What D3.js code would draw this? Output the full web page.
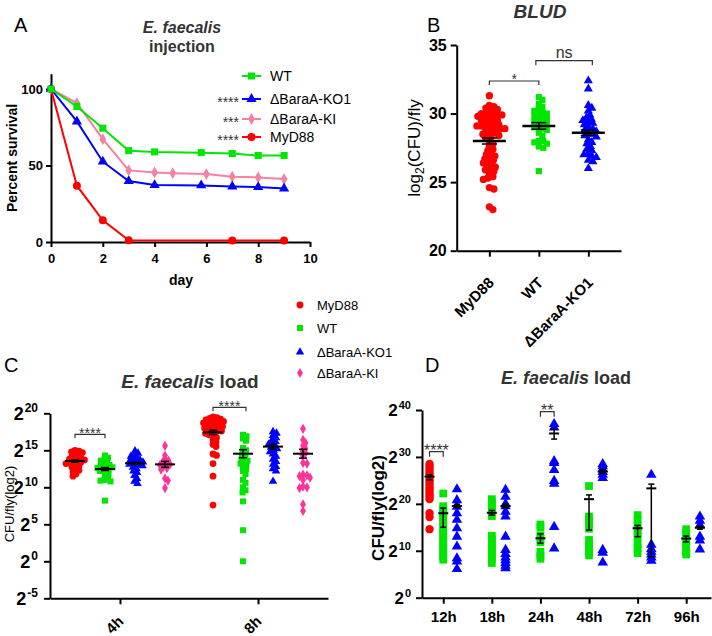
<!DOCTYPE html>
<html>
<head>
<meta charset="utf-8">
<script src="https://cdn.jsdelivr.net/npm/d3@7"></script>
<style>
  body { margin: 0; background: #fff; }
  svg { font-family: 'Liberation Sans', Arial, sans-serif; }
</style>
</head>
<body>
<div id="fig"></div>
<script>
// ---------- data ----------
// A: survival after E. faecalis injection
const wtDays = [0, 1, 2, 3, 4, 5.8, 7, 8, 9];
const wtSurv = [100, 88.6, 74.4, 59.7, 58.9, 58.4, 57.8, 56.5, 56.5];
const ko1Days = [0, 1, 2, 3, 4, 5.8, 7, 8, 9];
const ko1Surv = [100, 78.8, 52.5, 39.8, 37.2, 37, 36.3, 35.9, 35];
const kiDays = [0, 1, 2, 3, 4, 4.7, 6, 7, 8, 9];
const kiSurv = [100, 90.8, 67.2, 46.8, 45.5, 45, 44.4, 42.7, 42.2, 41.1];
const mydDays = [0, 1, 2, 3, 7, 9];
const mydSurv = [100, 36.8, 14.2, 1.1, 1, 1];
const survNames = ['WT', 'ΔBaraA-KO1', 'ΔBaraA-KI', 'MyD88'];
const survStars = ['', '****', '***', '****'];
const dayTicks = [0, 2, 4, 6, 8, 10];
const survTicks = [0, 50, 100];

// B: BLUD, log2(CFU)/fly
const bludGroups = ['MyD88', 'WT', 'ΔBaraA-KO1'];
const bludMyd = [31.3, 30.6, 30.5, 30.4, 30.3, 30.2, 30.1, 30.0, 30.0, 29.9, 29.9, 29.8, 29.8, 29.7, 29.6,
  29.5, 29.5, 29.4, 29.3, 29.2, 29.2, 29.1, 29.1, 29.0, 29.0, 28.9, 28.9, 28.8, 28.7, 28.6, 28.5, 28.5,
  28.4, 28.3, 28.2, 28.0, 27.8, 27.6, 27.4, 27.3, 27.1, 27.0, 26.9, 26.8, 26.7, 26.6, 26.5, 26.4, 26.3,
  26.2, 26.1, 26.0, 25.9, 25.8, 25.6, 25.4, 25.3, 25.2, 24.6, 24.5, 23.2, 23.0];
const bludWT = [31.2, 31.0, 30.7, 30.5, 30.3, 30.2, 30.1, 30.0, 29.9, 29.8, 29.7, 29.6, 29.5, 29.4, 29.3,
  29.2, 29.1, 29.0, 28.9, 28.8, 28.6, 28.4, 28.0, 28.0, 27.9, 27.8, 27.6, 27.5, 25.8];
const bludKO = [32.4, 31.8, 30.6, 30.4, 30.2, 29.9, 29.7, 29.6, 29.5, 29.4, 29.3, 29.2, 29.0, 28.9, 28.8,
  28.7, 28.6, 28.5, 28.4, 28.3, 28.1, 27.9, 27.8, 27.6, 27.4, 27.3, 27.1, 27.0, 26.9, 26.8, 26.6, 26.5, 26.0];
const bludMean = [28.0, 29.1, 28.6];
const bludSem = [0.22, 0.24, 0.2];
const bludTicks = [20, 25, 30, 35];

// C: E. faecalis load at 4h / 8h (log2 CFU per fly)
const cTimes = ['4h', '8h'];
const cGroups = ['MyD88', 'WT', 'ΔBaraA-KO1', 'ΔBaraA-KI'];
const cMyd = [
  [15.0, 14.9, 14.8, 14.7, 14.5, 14.3, 14.2, 14.0, 13.9, 13.8, 13.7, 13.6, 13.5, 13.4, 13.3, 13.2, 13.0,
    12.9, 12.7, 12.5, 12.3, 12.1, 11.8, 11.5],
  [19.5, 19.4, 19.3, 19.2, 19.1, 19.0, 18.9, 18.9, 18.8, 18.7, 18.6, 18.5, 18.4, 18.3, 18.2, 18.1, 18.0,
    17.9, 17.8, 17.7, 17.6, 17.5, 17.4, 17.3, 17.1, 16.9, 16.7, 16.4, 16.1, 15.8, 15.5, 14.5, 14.3, 13.2, 11.5, 7.6]
];
const cWT = [
  [14.3, 14.0, 13.8, 13.6, 13.4, 13.2, 13.0, 12.9, 12.8, 12.7, 12.6, 12.5, 12.4, 12.2, 12.0, 11.8, 11.5,
    11.2, 11.0, 10.9, 10.8, 8.2],
  [17.1, 16.9, 16.6, 16.3, 15.3, 15.0, 14.8, 14.5, 14.3, 14.0, 13.8, 13.6, 13.4, 13.2, 13.0, 12.8, 12.5,
    12.2, 11.8, 11.0, 10.6, 10.0, 9.6, 9.3, 8.1, 4.2, 0]
];
const cKO = [
  [14.9, 14.6, 14.4, 14.2, 14.0, 13.8, 13.7, 13.6, 13.5, 13.4, 13.3, 13.2, 13.1, 13.0, 12.9, 12.7, 12.5,
    12.2, 12.0, 11.6, 11.2, 10.8, 10.5],
  [17.5, 17.3, 17.0, 16.7, 16.5, 16.2, 16.0, 15.8, 15.6, 15.4, 15.2, 15.0, 14.8, 14.5, 14.2, 13.8, 13.5,
    13.1, 12.8, 12.5, 12.2, 10.8]
];
const cKI = [
  [15.6, 14.3, 13.8, 13.6, 13.4, 13.2, 13.1, 13.0, 12.8, 12.6, 12.4, 11.2, 10.9, 9.9],
  [17.9, 16.4, 16.0, 15.6, 15.2, 14.9, 14.6, 14.3, 13.3, 13.2, 11.7, 11.6, 11.5, 11.3, 11.0, 10.1, 10.0,
    9.9, 7.7, 6.8]
];
const cMean = [[13.55, 17.43], [12.47, 14.54], [13.24, 15.5], [13.1, 14.54]];
const cSem = [[0.15, 0.3], [0.2, 0.55], [0.15, 0.35], [0.4, 0.6]];
const cTicks = [-5, 0, 5, 10, 15, 20];

// D: E. faecalis load 12h..96h
const dTimes = ['12h', '18h', '24h', '48h', '72h', '96h'];
const dMyd12 = [28.5, 28.0, 27.5, 27.0, 26.5, 26.0, 25.5, 25.0, 24.5, 24.0, 23.5, 23.0, 22.5, 22.0, 21.5,
  21.0, 18.0, 17.2, 14.6];
const dMydMean = 25.8;
const dMydErr = [25.1, 26.2];
const dWT = [
  [22.2, 19.5, 19.0, 18.4, 17.8, 17.2, 16.5, 15.8, 15.0, 14.3, 13.6, 12.9, 12.2, 11.5, 10.8, 10.1, 9.4, 8.7, 8.1],
  [21.0, 20.3, 19.6, 18.9, 18.2, 17.4, 13.2, 12.5, 11.8, 11.1, 10.4, 9.7, 9.0, 8.3, 7.4],
  [15.6, 15.0, 13.3, 12.6, 11.8, 9.8, 9.0, 8.3],
  [23.8, 17.3, 16.5, 15.6, 14.7, 12.3, 11.4, 10.5, 9.7, 9.0],
  [17.6, 16.6, 15.3, 14.5, 13.7, 12.9, 11.4, 10.6, 9.5],
  [14.6, 13.8, 13.0, 12.2, 11.4, 10.6, 9.8, 9.2]
];
const dKO = [
  [23.1, 20.8, 19.4, 18.0, 16.6, 14.8, 13.0, 10.9, 8.4, 7.7, 6.1],
  [23.0, 21.5, 20.0, 19.5, 18.3, 17.3, 13.0, 10.2, 9.3, 8.6, 8.0, 7.4, 6.8, 6.3],
  [37.0, 36.3, 29.1, 28.7, 27.2, 24.9, 24.3, 15.1, 10.5],
  [28.5, 28.0, 27.4, 26.8, 26.2, 25.5, 10.2, 9.6, 7.5],
  [26.2, 11.3, 10.4, 9.8, 9.2, 8.6, 7.9],
  [17.3, 16.4, 15.5, 13.0, 12.2, 10.3]
];
const dWTMean = [18.0, 18.1, 12.66, 21.0, 14.8, 12.6];
const dWTLo = [15.0, 17.6, 11.6, 14.4, 13.0, 11.9];
const dWTHi = [19.1, 18.6, 13.6, 21.9, 15.4, 13.15];
const dKOMean = [19.55, 19.55, 35.0, 26.9, 23.3, 14.9];
const dKOLo = [19.2, 19.2, 33.8, 26.5, 8.7, 14.6];
const dKOHi = [19.9, 19.9, 35.9, 27.3, 24.2, 15.2];
const dTicks = [0, 10, 20, 30, 40];

// ---------- setup ----------
const red = '#ff0000', green = '#00e600', blue = '#0000ff', pink = '#ff3399', pinkA = '#f5829f';
const font = "'Liberation Sans', Arial, sans-serif";

const svg = d3.select('#fig').append('svg')
  .attr('width', 712).attr('height', 636)
  .style('background', '#fff');

function styleAxis(g, size) {
  g.attr('font-family', font).attr('font-size', size).attr('font-weight', 'bold');
  g.select('.domain').attr('stroke-width', 2);
  g.selectAll('.tick line').attr('stroke-width', 2);
}

// "2" with a superscript exponent
function powLabels(g, base, exp) {
  g.selectAll('.tick text').each(function (d) {
    const t = d3.select(this);
    t.text('2').attr('dy', '0.32em').style('font-size', base + 'px');
    t.append('tspan').attr('dx', 1).attr('dy', -base * 0.42).style('font-size', exp + 'px').text(d);
  });
}

function sym(type, size) {
  return d3.symbol().type(type).size(size)();
}

// simple beeswarm: push points sideways until they don't collide
function swarm(vals, y, md) {
  const pts = vals.map((v) => ({ v: v, y: y(v) })).sort((a, b) => a.y - b.y);
  const done = [];
  pts.forEach((p) => {
    for (let k = 0; k < 300; k++) {
      const off = (k % 2 ? 1 : -1) * Math.ceil(k / 2) * 0.5;
      if (done.every((q) => (q.dx - off) ** 2 + (q.y - p.y) ** 2 >= md * md)) {
        p.dx = off;
        break;
      }
    }
    done.push(p);
  });
  return pts;
}

function meanBar(g, cx, yM, yLo, yHi, hw, cw, sw) {
  g.append('line').attr('x1', cx - hw).attr('x2', cx + hw).attr('y1', yM).attr('y2', yM)
    .attr('stroke', '#000').attr('stroke-width', sw);
  g.append('line').attr('x1', cx).attr('x2', cx).attr('y1', yLo).attr('y2', yHi)
    .attr('stroke', '#000').attr('stroke-width', 1.5);
  [yLo, yHi].forEach((yy) => {
    g.append('line').attr('x1', cx - cw).attr('x2', cx + cw).attr('y1', yy).attr('y2', yy)
      .attr('stroke', '#000').attr('stroke-width', 1.5);
  });
}

function bracket(g, x1, x2, y, drop, label, size, labelY, weight) {
  g.append('path')
    .attr('d', `M${x1},${y + drop}V${y}H${x2}V${y + drop}`)
    .attr('fill', 'none').attr('stroke', '#333').attr('stroke-width', 1.2);
  g.append('text').attr('x', (x1 + x2) / 2).attr('y', labelY)
    .attr('text-anchor', 'middle').style('font-size', size + 'px')
    .style('font-weight', weight || 'normal').attr('fill', '#333').text(label);
}

function panelLabel(x, y, t) {
  svg.append('text').attr('x', x).attr('y', y).style('font-size', '20px').text(t);
}

// ---------- A: survival ----------
const gA = svg.append('g');
const xA = d3.scaleLinear().domain([0, 10]).range([51, 310]);
const yA = d3.scaleLinear().domain([0, 110]).range([242, 73.7]);

gA.append('g').attr('transform', 'translate(0,242)')
  .call(d3.axisBottom(xA).tickValues(dayTicks).tickSize(5).tickPadding(7).tickSizeOuter(0))
  .call(styleAxis, 13);
gA.append('g').attr('transform', 'translate(51,0)')
  .call(d3.axisLeft(yA).tickValues(survTicks).tickSize(5).tickPadding(3).tickSizeOuter(0))
  .call(styleAxis, 13);

const survSeries = [
  { days: kiDays, surv: kiSurv, color: pinkA, type: d3.symbolDiamond, size: 40, leg: 2 },
  { days: mydDays, surv: mydSurv, color: red, type: d3.symbolCircle, size: 50, leg: 3 },
  { days: ko1Days, surv: ko1Surv, color: blue, type: d3.symbolTriangle, size: 45, leg: 1 },
  { days: wtDays, surv: wtSurv, color: green, type: d3.symbolSquare, size: 50, leg: 0 }
];
const lineA = d3.line().x((d) => xA(d[0])).y((d) => yA(d[1]));
survSeries.forEach((s) => {
  const pts = d3.zip(s.days, s.surv);
  gA.append('path').attr('d', lineA(pts)).attr('fill', 'none')
    .attr('stroke', s.color).attr('stroke-width', 2);
  gA.selectAll(null).data(pts).enter().append('path')
    .attr('d', sym(s.type, s.size))
    .attr('transform', (d) => `translate(${xA(d[0])},${yA(d[1])})`)
    .attr('fill', s.color);
});

// legend A
const legRowsA = [76, 99, 119, 137];
survSeries.forEach((s) => {
  const ly = legRowsA[s.leg];
  gA.append('line').attr('x1', 242).attr('x2', 261).attr('y1', ly).attr('y2', ly)
    .attr('stroke', s.color).attr('stroke-width', 2);
  gA.append('path').attr('d', sym(s.type, s.size))
    .attr('transform', `translate(251.5,${ly})`).attr('fill', s.color);
  gA.append('text').attr('x', 270).attr('y', ly + 5).style('font-size', '14px')
    .text(survNames[s.leg]);
  gA.append('text').attr('x', 239).attr('y', ly + 8).attr('text-anchor', 'end')
    .style('font-size', '14px').attr('fill', '#333').text(survStars[s.leg]);
});

gA.append('text').attr('x', 182).attr('y', 33).attr('text-anchor', 'middle')
  .style('font-size', '16px').style('font-weight', 'bold').style('font-style', 'italic')
  .attr('fill', '#333').text('E. faecalis');
gA.append('text').attr('x', 182).attr('y', 52).attr('text-anchor', 'middle')
  .style('font-size', '16px').style('font-weight', 'bold').attr('fill', '#333').text('injection');
gA.append('text').attr('x', 181).attr('y', 285).attr('text-anchor', 'middle')
  .style('font-size', '14px').style('font-weight', 'bold').text('day');
gA.append('text').attr('transform', 'translate(16.5,158) rotate(-90)').attr('text-anchor', 'middle')
  .style('font-size', '14px').style('font-weight', 'bold').text('Percent survival');
panelLabel(14, 32, 'A');

// ---------- B: BLUD ----------
const gB = svg.append('g');
const xB = d3.scalePoint().domain(bludGroups).range([456.7, 621]).padding(0.66);
const yB = d3.scaleLinear().domain([20, 35]).range([250.7, 45]);

gB.append('g').attr('transform', 'translate(0,250.7)')
  .call(d3.axisBottom(xB).tickSize(6).tickSizeOuter(0))
  .call(styleAxis, 15)
  .selectAll('.tick text')
  .attr('y', 0).attr('dy', null).attr('text-anchor', 'end')
  .attr('transform', 'translate(5,33) rotate(-45)');
gB.append('g').attr('transform', 'translate(456.7,0)')
  .call(d3.axisLeft(yB).tickValues(bludTicks).tickSize(6).tickPadding(4).tickSizeOuter(0))
  .call(styleAxis, 16);

const bludSets = [
  { vals: bludMyd, color: red, type: d3.symbolCircle, size: 42 },
  { vals: bludWT, color: green, type: d3.symbolSquare, size: 38 },
  { vals: bludKO, color: blue, type: d3.symbolTriangle, size: 36 }
];
bludSets.forEach((s, i) => {
  const cx = xB(bludGroups[i]);
  const pts = swarm(s.vals, yB, 4.3);
  gB.selectAll(null).data(pts).enter().append('path')
    .attr('d', sym(s.type, s.size))
    .attr('transform', (d) => `translate(${cx + d.dx},${d.y})`)
    .attr('fill', s.color);
  meanBar(gB, cx, yB(bludMean[i]), yB(bludMean[i] - bludSem[i]), yB(bludMean[i] + bludSem[i]), 16.5, 7.5, 2.5);
});

bracket(gB, xB('MyD88'), xB('WT'), 81, 4, '*', 14, 84);
bracket(gB, xB('WT') - 3, xB('ΔBaraA-KO1') + 4, 60.7, 4.5, 'ns', 16, 58.3);

gB.append('text').attr('x', 540).attr('y', 18).attr('text-anchor', 'middle')
  .style('font-size', '19px').style('font-weight', 'bold').style('font-style', 'italic')
  .attr('fill', '#333').text('BLUD');
const yLabB = gB.append('text').attr('transform', 'translate(420,148) rotate(-90)')
  .attr('text-anchor', 'middle').style('font-size', '17px');
yLabB.append('tspan').text('log');
yLabB.append('tspan').attr('dy', 4).style('font-size', '12px').text('2');
yLabB.append('tspan').attr('dy', -4).text('(CFU)/fly');
panelLabel(427, 32, 'B');

// ---------- legend for C / D ----------
const legCD = [
  { color: red, type: d3.symbolCircle, size: 38 },
  { color: green, type: d3.symbolSquare, size: 36 },
  { color: blue, type: d3.symbolTriangle, size: 30 },
  { color: pink, type: d3.symbolDiamond, size: 30 }
];
const legRowsCD = [305, 328, 352, 373];
legCD.forEach((s, i) => {
  svg.append('path').attr('d', sym(s.type, s.size))
    .attr('transform', `translate(300,${legRowsCD[i]})`).attr('fill', s.color);
  svg.append('text').attr('x', 317).attr('y', legRowsCD[i] + 5).style('font-size', '13px')
    .text(cGroups[i]);
});

// ---------- C: load at 4h/8h ----------
const gC = svg.append('g');
const xC = d3.scalePoint().domain(cTimes).range([50, 328]).padding(0.507);
const yC = d3.scaleLinear().domain([-5, 20]).range([598.3, 413.3]);

gC.append('g').attr('transform', 'translate(0,598.3)')
  .call(d3.axisBottom(xC).tickSize(6).tickSizeOuter(0))
  .call(styleAxis, 15)
  .selectAll('.tick text')
  .attr('y', 0).attr('dy', null).attr('text-anchor', 'end')
  .attr('transform', 'translate(4,24) rotate(-45)');
gC.append('g').attr('transform', 'translate(50,0)')
  .call(d3.axisLeft(yC).tickValues(cTicks).tickSize(6).tickPadding(6).tickSizeOuter(0))
  .call(styleAxis, 18)
  .call(powLabels, 18, 12);

const cSets = [
  { vals: cMyd, color: red, type: d3.symbolCircle, size: 36 },
  { vals: cWT, color: green, type: d3.symbolSquare, size: 36 },
  { vals: cKO, color: blue, type: d3.symbolTriangle, size: 32 },
  { vals: cKI, color: pink, type: d3.symbolDiamond, size: 30 }
];
const cOffsets = [-45, -15, 15, 45];
cTimes.forEach((t, ti) => {
  cSets.forEach((s, gi) => {
    const cx = xC(t) + cOffsets[gi];
    const pts = swarm(s.vals[ti], yC, 3.6);
    gC.selectAll(null).data(pts).enter().append('path')
      .attr('d', sym(s.type, s.size))
      .attr('transform', (d) => `translate(${cx + d.dx},${d.y})`)
      .attr('fill', s.color);
    const m = cMean[gi][ti], e = cSem[gi][ti];
    meanBar(gC, cx, yC(m), yC(m - e), yC(m + e), 10, 4, 2);
  });
});

bracket(gC, xC('4h') - 45, xC('4h') - 15, 434.3, 4, '****', 14, 438.3);
bracket(gC, xC('8h') - 45, xC('8h') - 12, 407.3, 4, '****', 14, 411.3);

const tC = gC.append('text').attr('x', 190).attr('y', 388).attr('text-anchor', 'middle')
  .style('font-size', '19px').style('font-weight', 'bold').attr('fill', '#333');
tC.append('tspan').style('font-style', 'italic').text('E. faecalis');
tC.append('tspan').text(' load');
gC.append('text').attr('transform', 'translate(14,504) rotate(-90)').attr('text-anchor', 'middle')
  .style('font-size', '13px').text('CFU/fly(log2)');
panelLabel(4, 372, 'C');

// ---------- D: load 12h..96h ----------
const gD = svg.append('g');
const xD = d3.scaleLinear().domain([-0.437, 5.51]).range([422, 711]);
const yD = d3.scaleLinear().domain([0, 40]).range([597.7, 410]);

gD.append('g').attr('transform', 'translate(0,597.7)')
  .call(d3.axisBottom(xD).tickValues(d3.range(dTimes.length)).tickFormat((i) => dTimes[i])
    .tickSize(6).tickPadding(8).tickSizeOuter(0))
  .call(styleAxis, 15);
gD.append('g').attr('transform', 'translate(422,0)')
  .call(d3.axisLeft(yD).tickValues(dTicks).tickSize(6).tickPadding(5).tickSizeOuter(0))
  .call(styleAxis, 17)
  .call(powLabels, 17, 11);

const dOff = 13.7;
// MyD88 only at 12h
gD.selectAll(null).data(dMyd12).enter().append('path')
  .attr('d', sym(d3.symbolCircle, 55))
  .attr('transform', (d) => `translate(${xD(0) - dOff},${yD(d)})`)
  .attr('fill', red);
meanBar(gD, xD(0) - dOff, yD(dMydMean), yD(dMydErr[0]), yD(dMydErr[1]), 5, 3, 2);

dTimes.forEach((t, i) => {
  gD.selectAll(null).data(dWT[i]).enter().append('path')
    .attr('d', sym(d3.symbolSquare, 60))
    .attr('transform', (d) => `translate(${xD(i)},${yD(d)})`)
    .attr('fill', green);
  gD.selectAll(null).data(dKO[i]).enter().append('path')
    .attr('d', sym(d3.symbolTriangle, 48))
    .attr('transform', (d) => `translate(${xD(i) + dOff},${yD(d)})`)
    .attr('fill', blue);
  meanBar(gD, xD(i), yD(dWTMean[i]), yD(dWTLo[i]), yD(dWTHi[i]), 5, 3, 2);
  meanBar(gD, xD(i) + dOff, yD(dKOMean[i]), yD(dKOLo[i]), yD(dKOHi[i]), 5, 3, 2);
});

bracket(gD, xD(0) - dOff, xD(0), 451.7, 5, '****', 16, 455.7);
bracket(gD, xD(2), xD(2) + dOff, 411.7, 5, '**', 16, 416.2);

const tD = gD.append('text').attr('x', 566).attr('y', 384).attr('text-anchor', 'middle')
  .style('font-size', '18px').style('font-weight', 'bold').attr('fill', '#333');
tD.append('tspan').style('font-style', 'italic').text('E. faecalis');
tD.append('tspan').text(' load');
gD.append('text').attr('transform', 'translate(384,508) rotate(-90)').attr('text-anchor', 'middle')
  .style('font-size', '17px').style('font-weight', 'bold').text('CFU/fly(log2)');
panelLabel(425, 372, 'D');
</script>
</body>
</html>
